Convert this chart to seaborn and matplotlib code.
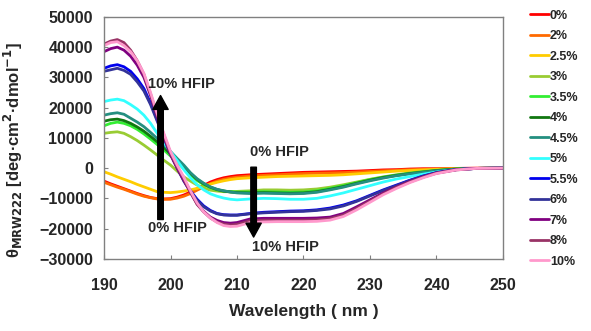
import numpy as np
import pandas as pd
import seaborn as sns
import matplotlib.pyplot as plt

# wavelength grid (nm) and CD values (x1000 deg cm2 dmol-1)
wavelength = [190, 191, 192, 193, 194, 195, 196, 197, 198, 199, 200, 201, 202, 203, 204,
              205, 206, 207, 208, 209, 210, 212, 214, 216, 218, 220, 222, 224, 226, 228,
              230, 232, 234, 236, 238, 240, 243, 246, 250]

hfip_0 = [-4.3, -5.2, -6.0, -6.8, -7.6, -8.4, -9.1, -9.7, -10.1, -10.2, -10.1, -9.6, -8.9, -7.9, -6.8,
          -5.7, -4.6, -3.8, -3.2, -2.8, -2.5, -2.2, -2.0, -1.8, -1.6, -1.4, -1.3, -1.2, -1.1, -1.0,
          -0.8, -0.6, -0.5, -0.3, -0.2, -0.2, -0.1, 0.0, 0.0]
hfip_2 = [-4.7, -5.5, -6.3, -7.0, -7.8, -8.6, -9.3, -9.8, -10.2, -10.3, -10.3, -9.9, -9.3, -8.4, -7.3,
          -6.2, -5.1, -4.3, -3.7, -3.3, -3.0, -2.6, -2.4, -2.2, -2.0, -1.8, -1.7, -1.6, -1.5, -1.3,
          -1.1, -0.9, -0.7, -0.5, -0.4, -0.3, -0.2, -0.1, 0.0]
hfip_2_5 = [-1.2, -2.0, -2.9, -3.7, -4.5, -5.4, -6.2, -7.0, -7.8, -8.0, -8.1, -7.9, -7.6, -7.2, -6.7,
            -6.0, -5.3, -4.7, -4.2, -3.8, -3.5, -3.2, -3.0, -2.8, -2.7, -2.6, -2.5, -2.4, -2.2, -1.9,
            -1.6, -1.3, -1.0, -0.8, -0.6, -0.4, -0.2, -0.1, 0.0]
hfip_3 = [11.5, 11.8, 12.0, 11.5, 10.4, 9.1, 7.6, 6.0, 4.3, 2.6, 1.0, -1.0, -2.9, -4.3, -5.6,
          -6.6, -7.3, -7.6, -7.8, -7.8, -7.7, -7.5, -7.2, -7.2, -7.3, -7.2, -6.9, -6.3, -5.5, -4.6,
          -3.7, -2.9, -2.2, -1.6, -1.1, -0.7, -0.3, -0.1, 0.0]
hfip_3_5 = [14.0, 14.8, 15.2, 14.8, 14.0, 12.8, 11.3, 9.6, 7.8, 6.0, 4.0, 2.0, -0.2, -2.3, -4.1,
            -5.5, -6.5, -7.2, -7.6, -7.8, -7.9, -7.9, -7.8, -7.9, -8.0, -7.9, -7.5, -6.7, -5.8, -4.8,
            -3.8, -3.0, -2.3, -1.7, -1.2, -0.8, -0.3, -0.1, 0.0]
hfip_4 = [15.5, 16.0, 16.2, 15.7, 14.8, 13.6, 12.2, 10.5, 8.7, 6.8, 4.7, 2.5, 0.4, -1.8, -3.7,
          -5.2, -6.3, -7.1, -7.6, -7.9, -8.1, -8.2, -8.1, -8.2, -8.3, -8.2, -7.8, -7.0, -6.1, -5.0,
          -4.0, -3.1, -2.4, -1.8, -1.3, -0.8, -0.3, -0.1, 0.0]
hfip_4_5 = [17.5, 18.0, 18.3, 17.8, 16.5, 15.2, 13.7, 11.8, 9.8, 7.8, 5.5, 3.2, 1.0, -1.5, -3.5,
            -5.0, -6.2, -7.0, -7.5, -7.9, -8.2, -8.4, -8.3, -8.4, -8.5, -8.4, -8.0, -7.2, -6.3, -5.2,
            -4.2, -3.3, -2.5, -1.9, -1.4, -0.9, -0.4, -0.1, 0.0]
hfip_5 = [22.0, 22.5, 22.8, 22.3, 21.0, 19.5, 17.5, 14.8, 11.5, 8.5, 5.5, 2.5, -0.5, -3.2, -5.5,
          -7.2, -8.5, -9.3, -9.9, -10.3, -10.5, -10.2, -10.0, -10.1, -10.3, -10.3, -10.0, -9.2, -8.2, -7.0,
          -5.8, -4.6, -3.6, -2.8, -2.0, -1.3, -0.5, -0.1, 0.0]
hfip_5_5 = [33.0, 33.8, 34.2, 33.5, 32.0, 29.5, 26.3, 21.5, 16.0, 10.5, 5.0, 0.5, -4.0, -7.5, -10.3,
            -12.5, -14.0, -15.0, -15.4, -15.5, -15.5, -15.0, -14.6, -14.4, -14.2, -14.1, -13.8, -13.2, -12.2, -10.8,
            -9.0, -7.2, -5.6, -4.0, -2.6, -1.5, -0.5, -0.1, 0.0]
hfip_6 = [32.0, 32.5, 33.0, 32.3, 31.0, 28.5, 25.5, 21.0, 15.5, 10.0, 4.5, 0.0, -4.3, -7.8, -10.6,
          -12.8, -14.2, -15.1, -15.5, -15.6, -15.6, -15.1, -14.8, -14.6, -14.4, -14.3, -14.0, -13.5, -12.5, -11.0,
          -9.2, -7.4, -5.8, -4.1, -2.7, -1.5, -0.5, -0.1, 0.0]
hfip_7 = [38.5, 39.5, 40.0, 39.0, 37.0, 34.0, 30.0, 24.0, 17.0, 10.5, 4.5, 0.0, -4.0, -8.0, -11.8,
          -14.3, -16.2, -17.3, -18.0, -18.2, -18.0, -16.8, -16.6, -16.6, -16.6, -16.6, -16.5, -16.2, -15.0, -12.8,
          -10.5, -8.2, -6.2, -4.4, -2.9, -1.6, -0.5, -0.1, 0.0]
hfip_8 = [41.0, 42.0, 42.5, 41.5, 39.0, 35.5, 31.0, 24.5, 17.5, 11.0, 5.0, 0.5, -3.5, -8.0, -12.0,
          -14.5, -16.5, -17.8, -18.5, -18.8, -18.6, -17.4, -17.2, -17.2, -17.2, -17.2, -17.1, -16.7, -15.5, -13.3,
          -10.9, -8.5, -6.4, -4.6, -3.0, -1.7, -0.6, -0.1, 0.0]
hfip_10 = [40.5, 41.5, 41.8, 40.5, 38.5, 35.5, 31.3, 25.0, 18.0, 11.5, 5.5, 1.0, -3.0, -7.5, -11.5,
           -14.5, -16.5, -18.0, -19.0, -19.3, -19.2, -18.0, -17.8, -17.7, -17.7, -17.7, -17.6, -17.2, -16.0, -13.8,
           -11.3, -8.8, -6.7, -4.8, -3.2, -1.8, -0.6, -0.1, 0.0]

labels = ["0%", "2%", "2.5%", "3%", "3.5%", "4%", "4.5%", "5%", "5.5%", "6%", "7%", "8%", "10%"]
series = [hfip_0, hfip_2, hfip_2_5, hfip_3, hfip_3_5, hfip_4, hfip_4_5, hfip_5,
          hfip_5_5, hfip_6, hfip_7, hfip_8, hfip_10]
colors = ["#ff0000", "#ff6a00", "#ffcc00", "#99cc33", "#33ee33", "#117711", "#248f80",
          "#33ffff", "#0000ee", "#333399", "#800080", "#993366", "#ff99cc"]

# long table for seaborn
rows = []
for lab, vals in zip(labels, series):
    for w, v in zip(wavelength, vals):
        rows.append({"Wavelength": w, "theta": v * 1000, "HFIP": lab})
df = pd.DataFrame(rows)

sns.set_style("ticks")
plt.rcParams['font.family'] = ['Liberation Sans', 'DejaVu Sans']
plt.rcParams['font.weight'] = 'bold'

fig = plt.figure(figsize=(5.91, 3.31), dpi=100)
ax = fig.add_axes([0.176, 0.218, 0.675, 0.731])

sns.lineplot(data=df, x="Wavelength", y="theta", hue="HFIP", hue_order=labels,
             palette=colors, linewidth=2.0, ax=ax, sort=True)

ax.set_xlim(190, 250)
ax.set_ylim(-30000, 50000)
ax.set_xticks(range(190, 251, 10))
ax.set_yticks(range(-30000, 50001, 10000))
ax.tick_params(direction="in", length=3, labelsize=11.5, color="#808080")
ax.tick_params(axis="x", pad=14)
ax.tick_params(axis="y", pad=8)
for lbl in ax.get_xticklabels() + ax.get_yticklabels():
    lbl.set_fontweight("bold")
for sp in ax.spines.values():
    sp.set_color("#808080")
    sp.set_linewidth(1.0)

ax.set_xlabel("Wavelength ( nm )", fontsize=12.5, fontweight="bold", labelpad=8)
ax.set_ylabel(r"θ$_{\mathbf{MRW222}}$ [deg·cm$^{\mathbf{2}}$·dmol$^{\mathbf{-1}}$]",
              fontsize=12, fontweight="bold")
ax.yaxis.set_label_coords(-0.198, 0.45)

# arrows and annotations
arrow_style = dict(facecolor="black", edgecolor="black", width=4, headwidth=11, headlength=10)
ax.annotate("", xy=(198.5, 24000), xytext=(198.5, -17000), arrowprops=arrow_style)
ax.annotate("", xy=(212.5, -22800), xytext=(212.5, 300), arrowprops=arrow_style)
ax.text(196.6, 27800, "10% HFIP", fontsize=10.5, fontweight="bold", va="center")
ax.text(196.6, -19800, "0% HFIP", fontsize=10.5, fontweight="bold", va="center")
ax.text(212.0, 5300, "0% HFIP", fontsize=10.5, fontweight="bold", va="center")
ax.text(212.3, -26000, "10% HFIP", fontsize=10.5, fontweight="bold", va="center")

ax.legend(loc="upper left", bbox_to_anchor=(1.055, 1.05), frameon=False, fontsize=9,
          handlelength=1.5, handletextpad=0.1, labelspacing=0.68, borderaxespad=0)
for t in ax.get_legend().get_texts():
    t.set_fontweight("bold")

fig.savefig("out.png", dpi=100)
